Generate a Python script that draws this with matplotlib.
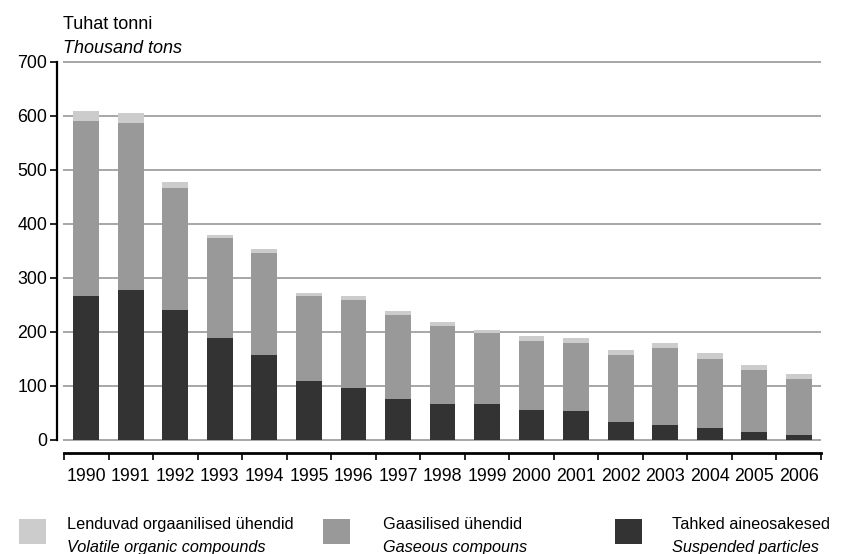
import matplotlib.pyplot as plt
from matplotlib.patches import Rectangle
import numpy as np

plt.rcParams['font.family'] = ['Liberation Sans', 'DejaVu Sans']

years = [str(y) for y in range(1990, 2007)]
# thousand tons
suspended = [267, 277, 240, 188, 158, 110, 97, 76, 67, 67, 56, 54, 34, 28, 22, 15, 10]
gaseous = [323, 310, 226, 186, 189, 156, 163, 156, 145, 132, 128, 126, 124, 143, 128, 115, 103]
volatile = [19, 18, 11, 5, 6, 7, 7, 6, 7, 5, 9, 9, 9, 9, 11, 9, 9]

labels_et = ['Lenduvad orgaanilised ühendid', 'Gaasilised ühendid', 'Tahked aineosakesed']
labels_en = ['Volatile organic compounds', 'Gaseous compouns', 'Suspended particles']
colors = ['#cccccc', '#999999', '#333333']

W, H = 849, 554
fig = plt.figure(figsize=(W / 100, H / 100), dpi=100)
ax = fig.add_axes([57 / W, 1 - 440 / H, (821 - 57) / W, (440 - 62) / H])

x = np.arange(len(years))
bw = 0.58
s = np.array(suspended)
g = np.array(gaseous)
v = np.array(volatile)
ax.bar(x, s, width=bw, color=colors[2], zorder=3)
ax.bar(x, g, width=bw, bottom=s, color=colors[1], zorder=3)
ax.bar(x, v, width=bw, bottom=s + g, color=colors[0], zorder=3)

left = -0.5 - 7 / 44.5
ax.set_xlim(left, len(years) - 0.5)
ax.set_ylim(0, 700)

# gridlines
ax.hlines(np.arange(0, 701, 100), -0.5 - 1 / 44.5, len(years) - 0.5,
          color='#a0a0a0', lw=1.3, zorder=1, clip_on=False)

for sp in ['top', 'right']:
    ax.spines[sp].set_visible(False)
ax.spines['left'].set_linewidth(1.6)
ax.spines['left'].set_bounds(0, 700)
ax.spines['bottom'].set_position(('outward', 9))
ax.spines['bottom'].set_bounds(-0.5, len(years) - 0.5)
ax.spines['bottom'].set_linewidth(2)

ax.set_yticks(np.arange(0, 701, 100))
ax.tick_params(axis='y', direction='out', length=5, width=1.2, labelsize=12.8, pad=2)

ax.set_xticks(np.arange(-0.5, len(years), 1.0))
ax.set_xticklabels([])
ax.set_xticks(x, minor=True)
ax.set_xticklabels(years, minor=True)
ax.tick_params(axis='x', which='major', direction='out', length=5, width=1.2)
ax.tick_params(axis='x', which='minor', length=0, labelsize=12.8, pad=11)

fig.text(63 / W, 1 - 29 / H, 'Tuhat tonni', fontsize=13, va='baseline', ha='left')
fig.text(63 / W, 1 - 53 / H, 'Thousand tons', fontsize=13, va='baseline', ha='left', style='italic')

# legend
sw_x = [19, 323, 615]
tx_x = [67, 383, 672]
for i in range(3):
    fig.add_artist(Rectangle((sw_x[i] / W, 1 - 544 / H), 27 / W, 25 / H,
                             transform=fig.transFigure, color=colors[i], lw=0))
    fig.text(tx_x[i] / W, 1 - 529 / H, labels_et[i], fontsize=11.7, va='baseline', ha='left')
    fig.text(tx_x[i] / W, 1 - 552 / H, labels_en[i], fontsize=11.7, va='baseline', ha='left', style='italic')

fig.savefig('out.png', dpi=100)
